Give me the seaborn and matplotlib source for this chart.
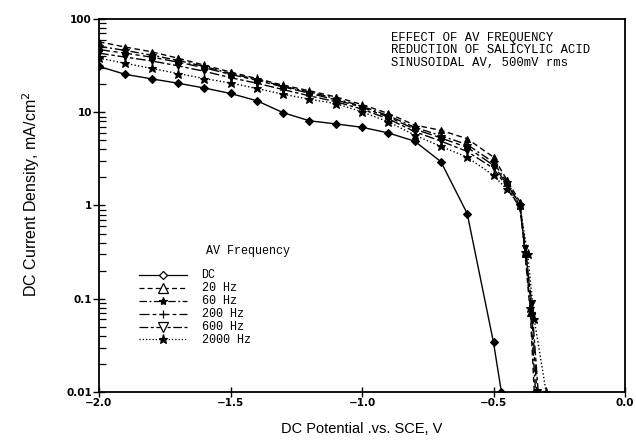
import numpy as np
import pandas as pd
import matplotlib
matplotlib.use("Agg")
import matplotlib.pyplot as plt
from matplotlib.lines import Line2D
from matplotlib.font_manager import FontProperties
import seaborn as sns

# ---- data: potential (V vs SCE) and DC current density (mA/cm^2) ----
potential_dc = [-2.0, -1.9, -1.8, -1.7, -1.6, -1.5, -1.4, -1.3, -1.2, -1.1,
                -1.0, -0.9, -0.8, -0.7, -0.6, -0.5, -0.47]
current_dc = [31, 25.5, 22.8, 20.5, 18.2, 15.9, 13.3, 9.9, 8.1, 7.5,
              6.9, 6.0, 4.9, 2.95, 0.82, 0.034, 0.01]

potential_20 = [-2.0, -1.9, -1.8, -1.7, -1.6, -1.5, -1.4, -1.3, -1.2, -1.1,
                -1.0, -0.9, -0.8, -0.7, -0.6, -0.5, -0.45, -0.4, -0.38, -0.36, -0.345]
current_20 = [57, 50, 44.5, 38, 32, 27, 23, 19.5, 17, 14.6,
              12.1, 9.7, 7.3, 6.4, 5.2, 3.3, 1.9, 1.1, 0.30, 0.07, 0.01]

potential_60 = [-2.0, -1.9, -1.8, -1.7, -1.6, -1.5, -1.4, -1.3, -1.2, -1.1,
                -1.0, -0.9, -0.8, -0.7, -0.6, -0.5, -0.45, -0.4, -0.38, -0.36, -0.34]
current_60 = [51, 46, 41, 36, 31, 26, 22.5, 19, 16.5, 14,
              11.6, 9.2, 6.9, 5.6, 4.5, 2.9, 1.8, 1.0, 0.32, 0.08, 0.01]

potential_200 = [-2.0, -1.9, -1.8, -1.7, -1.6, -1.5, -1.4, -1.3, -1.2, -1.1,
                 -1.0, -0.9, -0.8, -0.7, -0.6, -0.5, -0.45, -0.4, -0.375, -0.355, -0.335]
current_200 = [47, 43, 39, 34.5, 30, 25.5, 22, 18.7, 16, 13.6,
               11.3, 8.9, 6.6, 5.3, 4.2, 2.7, 1.7, 1.05, 0.30, 0.07, 0.01]

potential_600 = [-2.0, -1.9, -1.8, -1.7, -1.6, -1.5, -1.4, -1.3, -1.2, -1.1,
                 -1.0, -0.9, -0.8, -0.7, -0.6, -0.5, -0.45, -0.4, -0.38, -0.355, -0.33]
current_600 = [43, 39, 35.5, 31.5, 27.5, 23.5, 20.5, 17.5, 15, 13,
               10.8, 8.5, 6.2, 4.9, 3.8, 2.5, 1.6, 0.95, 0.35, 0.09, 0.01]

potential_2000 = [-2.0, -1.9, -1.8, -1.7, -1.6, -1.5, -1.4, -1.3, -1.2, -1.1,
                  -1.0, -0.9, -0.8, -0.7, -0.6, -0.5, -0.45, -0.4, -0.37, -0.345, -0.30]
current_2000 = [38, 33.5, 29.5, 26, 23, 20.6, 18, 15.6, 13.8, 12.4,
                10.1, 7.9, 5.7, 4.3, 3.3, 2.1, 1.5, 1.0, 0.30, 0.06, 0.01]

series_labels = ["DC", "20 Hz", "60 Hz", "200 Hz", "600 Hz", "2000 Hz"]
series_x = [potential_dc, potential_20, potential_60, potential_200, potential_600, potential_2000]
series_y = [current_dc, current_20, current_60, current_200, current_600, current_2000]

x_ticks = [-2.0, -1.5, -1.0, -0.5, 0.0]
x_tick_labels = ["\u22122.0", "\u22121.5", "\u22121.0", "\u22120.5", "0.0"]
y_ticks = [0.01, 0.1, 1, 10, 100]
y_tick_labels = ["0.01", "0.1", "1", "10", "100"]

note_lines = ["EFFECT OF AV FREQUENCY",
              "REDUCTION OF SALICYLIC ACID",
              "SINUSOIDAL AV, 500mV rms"]

frames = []
for lab, xs, ys in zip(series_labels, series_x, series_y):
    frames.append(pd.DataFrame({"potential": xs, "current": ys, "frequency": lab}))
df = pd.concat(frames, ignore_index=True)

# ---- styles ----
styles = {
    "DC":      dict(ls="-",                   plot_marker="D", ms=4.0, leg_marker="D", leg_fill="white", leg_ms=4.0),
    "20 Hz":   dict(ls=(0, (4, 2.5)),         plot_marker="^", ms=5.0, leg_marker="^", leg_fill="white", leg_ms=6.5),
    "60 Hz":   dict(ls=(0, (6, 2, 1.5, 2)),   plot_marker="*", ms=6.5, leg_marker="*", leg_fill="black", leg_ms=6.0),
    "200 Hz":  dict(ls=(0, (8, 2.5, 3, 2.5)), plot_marker="P", ms=5.0, leg_marker="+", leg_fill="black", leg_ms=6.0),
    "600 Hz":  dict(ls=(0, (7, 2, 2.5, 2)),   plot_marker="v", ms=5.0, leg_marker="v", leg_fill="white", leg_ms=6.5),
    "2000 Hz": dict(ls=(0, (1, 1.6)),         plot_marker="*", ms=6.5, leg_marker="*", leg_fill="black", leg_ms=6.5),
}

W, H = 636, 442
fig = plt.figure(figsize=(W / 100, H / 100), dpi=100)
ax = fig.add_axes([99 / W, 1 - 392 / H, (625 - 99) / W, (392 - 19) / H])

for lab in series_labels:
    st = styles[lab]
    sub = df[df["frequency"] == lab]
    sns.lineplot(data=sub, x="potential", y="current", ax=ax, color="black",
                 linestyle=st["ls"], linewidth=1.0, marker=st["plot_marker"],
                 markersize=st["ms"], markerfacecolor="black",
                 markeredgecolor="black", markeredgewidth=0.8,
                 estimator=None, sort=False, legend=False)

ax.set_yscale("log")
ax.set_xlim(-2.0, 0.0)
ax.set_ylim(0.01, 100)

ax.set_xticks(x_ticks)
ax.set_xticklabels(x_tick_labels)
ax.set_yticks(y_ticks)
ax.set_yticklabels(y_tick_labels)
ax.yaxis.set_minor_locator(matplotlib.ticker.LogLocator(base=10, subs=np.arange(2, 10)))
ax.yaxis.set_minor_formatter(matplotlib.ticker.NullFormatter())
ax.xaxis.set_minor_locator(matplotlib.ticker.NullLocator())

tick_font = FontProperties(family="DejaVu Sans", weight="bold", size=7.5)
for t in ax.get_xticklabels() + ax.get_yticklabels():
    t.set_fontproperties(tick_font)

ax.tick_params(axis="y", which="major", direction="inout", length=8, width=1.0, pad=1)
ax.tick_params(axis="y", which="minor", direction="in", length=5, width=0.9)
ax.tick_params(axis="x", which="major", direction="inout", length=7, width=1.0, pad=1)
ax.tick_params(top=False, right=False)

for sp in ax.spines.values():
    sp.set_linewidth(1.3)
    sp.set_color("black")

ax.set_xlabel("DC Potential .vs. SCE, V", labelpad=10, family="Liberation Sans", size=10.5)
ax.set_ylabel("DC Current Density, mA/cm$^2$", family="Liberation Sans", size=11.5)
ax.yaxis.set_label_coords(-0.108, 0.53)

mono = "Liberation Mono"
for i, line in enumerate(note_lines):
    ax.text(391 / W, 1 - (38 + 12.3 * i) / H, line, transform=fig.transFigure,
            family=mono, size=8.8, va="center", ha="left")

ax.text(206 / W, 1 - 251 / H, "AV Frequency", transform=fig.transFigure,
        family=mono, size=8.5, va="center", ha="left")

handles = []
for lab in series_labels:
    st = styles[lab]
    handles.append(Line2D([], [], color="black", linestyle=st["ls"], linewidth=0.9,
                          marker=st["leg_marker"], markersize=st["leg_ms"],
                          markerfacecolor=st["leg_fill"], markeredgecolor="black",
                          markeredgewidth=0.9))
ax.legend(handles, series_labels, loc="upper left",
          bbox_to_anchor=(139 / W, 1 - 269.5 / H), bbox_transform=fig.transFigure,
          frameon=False, prop=FontProperties(family=mono, size=8.5),
          handlelength=4.1, handleheight=0.5, handletextpad=1.2, labelspacing=0.08,
          borderpad=0, borderaxespad=0, numpoints=1)

fig.savefig("out.png", dpi=100)
